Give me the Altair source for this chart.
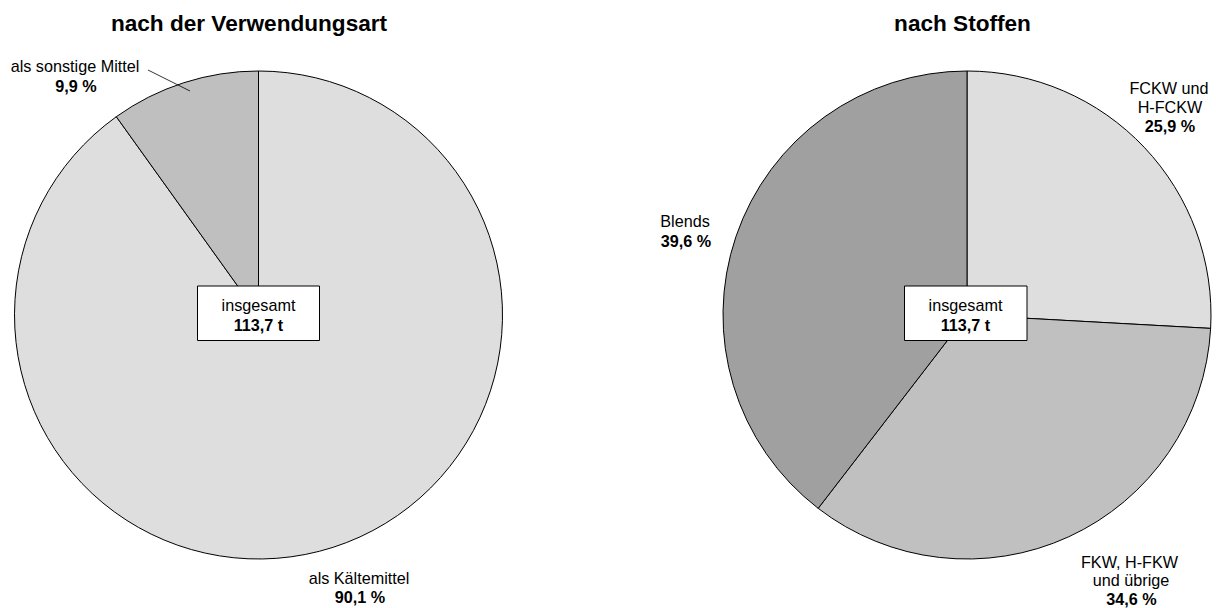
import altair as alt
import pandas as pd

# ---- data ----
use_categories = ["als Kältemittel", "als sonstige Mittel"]
use_shares = [90.1, 9.9]
use_colors = ["#dedede", "#bfbfbf"]

substance_categories = ["FCKW und H-FCKW", "FKW, H-FKW und übrige", "Blends"]
substance_shares = [25.9, 34.6, 39.6]
substance_colors = ["#dedede", "#c0c0c0", "#a0a0a0"]

titles = ["nach der Verwendungsart", "nach Stoffen"]
total_label = "insgesamt"
total_value = "113,7 t"

FONT = "Liberation Sans"


def pct(v):
    return f"{v:.1f}".replace(".", ",") + " %"


left_df = pd.DataFrame({"cat": use_categories, "share": use_shares,
                        "idx": list(range(len(use_categories)))})
right_df = pd.DataFrame({"cat": substance_categories, "share": substance_shares,
                         "idx": list(range(len(substance_categories)))})

color_scale = alt.Scale(domain=use_categories + substance_categories,
                        range=use_colors + substance_colors)


def pie(df, cx, cy, r):
    return alt.Chart(df).mark_arc(radius=r, stroke="black", strokeWidth=1).encode(
        theta=alt.Theta("share:Q", stack=True),
        order=alt.Order("idx:Q"),
        color=alt.Color("cat:N", scale=color_scale, legend=None),
        x=alt.value(cx),
        y=alt.value(cy),
    )


one = pd.DataFrame({"k": [0]})


def txt(text, x, y, bold=False, size=16.2):
    return alt.Chart(one).mark_text(
        font=FONT, fontSize=size, fontWeight="bold" if bold else "normal",
        align="center", baseline="alphabetic", color="black",
    ).encode(x=alt.value(x), y=alt.value(y), text=alt.value(text))


def box(x1, x2, y1, y2):
    return alt.Chart(one).mark_rect(fill="white", stroke="black", strokeWidth=1).encode(
        x=alt.value(x1), x2=alt.value(x2), y=alt.value(y1), y2=alt.value(y2)
    )


leader = alt.Chart(one).mark_rule(color="black", strokeWidth=0.8).encode(
    x=alt.value(148), y=alt.value(70), x2=alt.value(190), y2=alt.value(91)
)

layers = [
    pie(left_df, 258.5, 315, 244),
    pie(right_df, 967, 315, 244),
    leader,
    box(197.5, 319.5, 286, 340.5),
    box(904.5, 1027, 286, 340.5),
    # titles
    txt(titles[0], 249, 31, bold=True, size=22.6),
    txt(titles[1], 962.5, 31, bold=True, size=22.6),
    # totals
    txt(total_label, 258.5, 311),
    txt(total_value, 258.5, 331, bold=True),
    txt(total_label, 965.5, 311),
    txt(total_value, 965.5, 331, bold=True),
    # left labels
    txt(use_categories[1], 75, 72),
    txt(pct(use_shares[1]), 76, 91.5, bold=True),
    txt(use_categories[0], 359, 584),
    txt(pct(use_shares[0]), 360, 603, bold=True),
    # right labels
    txt("FCKW und", 1169, 93.5),
    txt("H-FCKW", 1170, 113),
    txt(pct(substance_shares[0]), 1170, 132, bold=True),
    txt(substance_categories[2], 685, 227),
    txt(pct(substance_shares[2]), 686, 246.5, bold=True),
    txt("FKW, H-FKW", 1129.5, 567.5),
    txt("und übrige", 1131, 586),
    txt(pct(substance_shares[1]), 1131.5, 605, bold=True),
]

chart = alt.layer(*layers).resolve_scale(theta="independent").properties(
    width=1216, height=608, autosize="none", padding=0
).configure_view(stroke=None)

chart.save("out.html", embed_options={"renderer": "svg", "actions": False})
